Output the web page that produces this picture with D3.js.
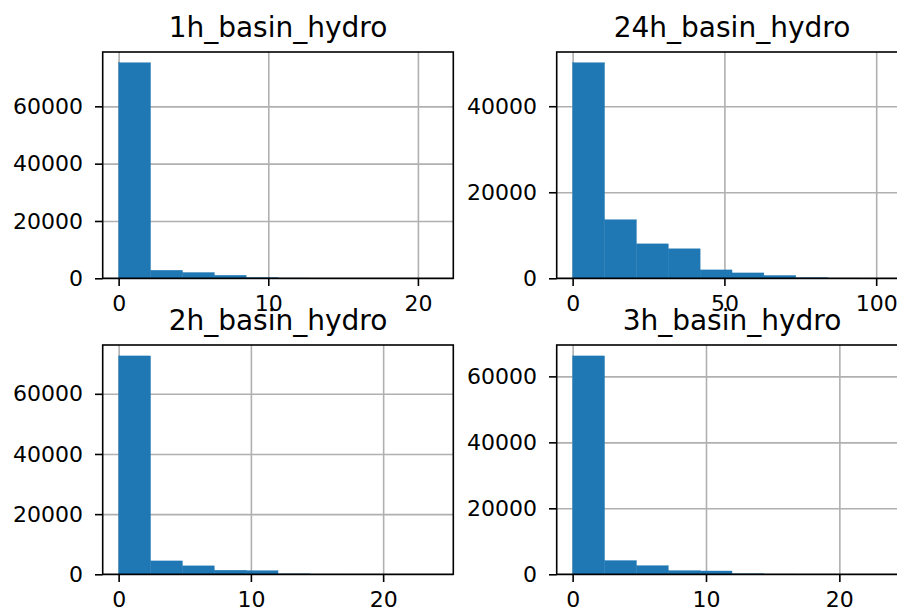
<!DOCTYPE html>
<html><head><meta charset="utf-8">
<script src="https://cdn.jsdelivr.net/npm/d3@7"></script>
<style>
body{margin:0;background:#fff;}
svg{display:block;font-family:"DejaVu Sans",sans-serif;}
</style>
</head><body>
<svg id="chart" width="897" height="613"></svg>
<script>
// ---- data ----
const titles = ["1h_basin_hydro", "24h_basin_hydro", "2h_basin_hydro", "3h_basin_hydro"];
const counts1h  = [75200, 2800, 2000, 1050, 250, 80, 30, 10, 5, 2];
const counts24h = [50100, 13600, 8000, 6850, 1950, 1250, 650, 150, 40, 10];
const counts2h  = [72600, 4450, 2800, 1350, 1200, 150, 50, 20, 8, 3];
const counts3h  = [66200, 4150, 2600, 1100, 1000, 150, 50, 20, 8, 3];
const range1h  = [0, 21.3];
const range24h = [0, 105];
const range2h  = [0, 24.1];
const range3h  = [0, 23.9];
const xTicks1h  = [0, 10, 20];
const xTicks24h = [0, 50, 100];
const xTicks2h  = [0, 10, 20];
const xTicks3h  = [0, 10, 20];
const yTicks1h  = [0, 20000, 40000, 60000];
const yTicks24h = [0, 20000, 40000];
const yTicks2h  = [0, 20000, 40000, 60000];
const yTicks3h  = [0, 20000, 40000, 60000];

const series = [
  {title: titles[0], counts: counts1h,  range: range1h,  xt: xTicks1h,  yt: yTicks1h},
  {title: titles[1], counts: counts24h, range: range24h, xt: xTicks24h, yt: yTicks24h},
  {title: titles[2], counts: counts2h,  range: range2h,  xt: xTicks2h,  yt: yTicks2h},
  {title: titles[3], counts: counts3h,  range: range3h,  xt: xTicks3h,  yt: yTicks3h}
];

// ---- layout ----
const panels = [
  {x0: 102.7, x1: 453.3, y0: 52,  y1: 278.3},
  {x0: 556.7, x1: 907.3, y0: 52,  y1: 278.3},
  {x0: 102.7, x1: 453.3, y0: 345, y1: 574.3},
  {x0: 556.7, x1: 907.3, y0: 345, y1: 574.3}
];
const BAR = "#1f77b4", GRID = "#b0b0b0", LW = 1.6, TICK = 7.7, TXT = "#000";
const svg = d3.select("#chart");

series.forEach((s, i) => {
  const p = panels[i];
  const [mn, mx] = s.range;
  const pad = (mx - mn) * 0.05;
  const x = d3.scaleLinear().domain([mn - pad, mx + pad]).range([p.x0, p.x1]);
  const ymax = d3.max(s.counts) * 1.05;
  const y = d3.scaleLinear().domain([0, ymax]).range([p.y1, p.y0]);
  const n = s.counts.length;
  const w = (mx - mn) / n;
  const bins = s.counts.map((c, k) => ({a: mn + k * w, b: mn + (k + 1) * w, c}));

  const g = svg.append("g");

  // grid (below bars)
  const gx = g.append("g").attr("transform", `translate(0,${p.y1})`)
    .call(d3.axisBottom(x).tickValues(s.xt).tickSize(-(p.y1 - p.y0)).tickFormat(""));
  gx.select(".domain").remove();
  gx.selectAll("line").attr("stroke", GRID).attr("stroke-width", LW);
  const gy = g.append("g").attr("transform", `translate(${p.x0},0)`)
    .call(d3.axisLeft(y).tickValues(s.yt).tickSize(-(p.x1 - p.x0)).tickFormat(""));
  gy.select(".domain").remove();
  gy.selectAll("line").attr("stroke", GRID).attr("stroke-width", LW);

  // bars
  g.append("g").selectAll("rect").data(bins).join("rect")
    .attr("x", d => x(d.a)).attr("width", d => x(d.b) - x(d.a))
    .attr("y", d => y(d.c)).attr("height", d => y(0) - y(d.c))
    .attr("fill", BAR).attr("stroke", BAR).attr("stroke-width", 0.4);

  // spines
  g.append("rect").attr("x", p.x0).attr("y", p.y0)
    .attr("width", p.x1 - p.x0).attr("height", p.y1 - p.y0)
    .attr("fill", "none").attr("stroke", "#000").attr("stroke-width", LW);

  // axes ticks + labels
  const ax = g.append("g").attr("transform", `translate(0,${p.y1})`)
    .call(d3.axisBottom(x).tickValues(s.xt).tickSize(TICK).tickPadding(9).tickFormat(d3.format("d")));
  ax.select(".domain").remove();
  ax.selectAll("line").attr("stroke", "#000").attr("stroke-width", LW);
  ax.selectAll("text").attr("font-size", 22).attr("fill", TXT)
    .attr("font-family", "DejaVu Sans");

  const ay = g.append("g").attr("transform", `translate(${p.x0},0)`)
    .call(d3.axisLeft(y).tickValues(s.yt).tickSize(TICK).tickPadding(12).tickFormat(d3.format("d")));
  ay.select(".domain").remove();
  ay.selectAll("line").attr("stroke", "#000").attr("stroke-width", LW);
  ay.selectAll("text").attr("font-size", 22).attr("fill", TXT)
    .attr("font-family", "DejaVu Sans");

  // title
  g.append("text").attr("x", (p.x0 + p.x1) / 2).attr("y", p.y0 - 15.5)
    .attr("text-anchor", "middle").attr("font-size", 28).attr("fill", TXT)
    .text(s.title);
});
</script>
</body></html>
